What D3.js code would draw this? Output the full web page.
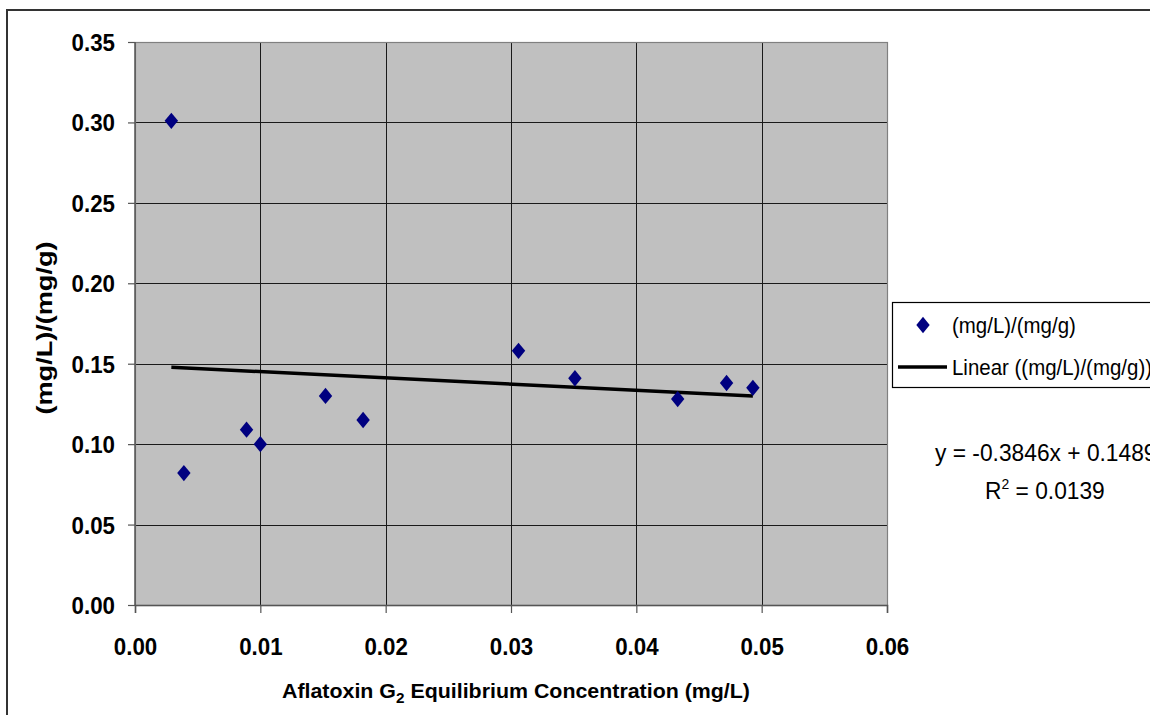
<!DOCTYPE html>
<html>
<head>
<meta charset="utf-8">
<script src="https://cdn.jsdelivr.net/npm/d3@7"></script>
<style>
  html, body { margin: 0; padding: 0; background: #fff; overflow: hidden; }
  svg { display: block; font-family: "Liberation Sans", Arial, sans-serif; }
</style>
</head>
<body>
<svg id="chart" width="1150" height="715"></svg>
<script>
// ---- data ----
const xValues = [0.0029, 0.0039, 0.0089, 0.0100, 0.0152, 0.0182, 0.0306, 0.0351, 0.0433, 0.0472, 0.0493];
const yValues = [0.301, 0.082, 0.109, 0.100, 0.130, 0.115, 0.158, 0.141, 0.128, 0.138, 0.135];
const xTicks = [0, 0.01, 0.02, 0.03, 0.04, 0.05, 0.06];
const yTicks = [0, 0.05, 0.10, 0.15, 0.20, 0.25, 0.30, 0.35];
const trendSlope = -0.3846;
const trendIntercept = 0.1489;
const seriesName = "(mg/L)/(mg/g)";
const trendName = "Linear ((mg/L)/(mg/g))";
const equationText = "y = -0.3846x + 0.1489";
const r2Value = "0.0139";
const xTitle = ["Aflatoxin G", "2", " Equilibrium Concentration (mg/L)"];
const yTitle = "(mg/L)/(mg/g)";

// ---- layout ----
const svg = d3.select("#chart");
const pL = 135, pR = 887, pT = 42, pB = 605;
const x = d3.scaleLinear().domain([0, 0.06]).range([pL, pR]);
const y = d3.scaleLinear().domain([0, 0.35]).range([pB, pT]);
const SX = 0.93; // horizontal text compression

// custom diamond symbol (slightly taller than wide)
const tallDiamond = {
  draw(ctx, size) {
    const w = Math.sqrt(size) / 2, h = w * 1.22;
    ctx.moveTo(0, -h); ctx.lineTo(w, 0); ctx.lineTo(0, h); ctx.lineTo(-w, 0); ctx.closePath();
  }
};
const diamond = d3.symbol().type(tallDiamond).size(180);

// outer chart border
svg.append("rect").attr("x", 7).attr("y", 10).attr("width", 1200).attr("height", 800)
  .attr("fill", "#fff").attr("stroke", "#333").attr("stroke-width", 2);

// plot background
svg.append("rect").attr("x", pL).attr("y", pT).attr("width", pR - pL).attr("height", pB - pT)
  .attr("fill", "#C0C0C0");

// gridlines
const grid = svg.append("g");
grid.selectAll("line.h").data(yTicks.slice(1)).join("line")
  .attr("x1", pL).attr("x2", pR).attr("y1", d => Math.round(y(d)) + 0.5).attr("y2", d => Math.round(y(d)) + 0.5)
  .attr("stroke", "#1a1a1a").attr("stroke-width", 1);
grid.selectAll("line.v").data(xTicks.slice(1, -1)).join("line")
  .attr("y1", pT).attr("y2", pB).attr("x1", d => Math.round(x(d)) + 0.5).attr("x2", d => Math.round(x(d)) + 0.5)
  .attr("stroke", "#1a1a1a").attr("stroke-width", 1);

// plot border
svg.append("rect").attr("x", pL + 0.5).attr("y", pT + 0.5).attr("width", pR - pL).attr("height", pB - pT)
  .attr("fill", "none").attr("stroke", "#808080").attr("stroke-width", 1.2);

// axes with d3 axis generators
const yAxis = d3.axisLeft(y).tickValues(yTicks).tickSize(7).tickFormat(d3.format(".2f"));
const xAxis = d3.axisBottom(x).tickValues(xTicks).tickSize(8).tickFormat(d3.format(".2f"));

const gy = svg.append("g").attr("transform", `translate(${pL},0)`).call(yAxis);
const gx = svg.append("g").attr("transform", `translate(0,${pB})`).call(xAxis);
[gy, gx].forEach(g => {
  g.select(".domain").attr("stroke", "#555").attr("stroke-width", 1.5);
  g.selectAll(".tick line").attr("stroke", "#555").attr("stroke-width", 1.2);
  g.selectAll(".tick text").attr("font-family", "Liberation Sans, Arial, sans-serif")
    .attr("font-size", 24).attr("font-weight", "bold").attr("fill", "#000");
});
gy.select(".domain").attr("d", `M0,${pT}V${pB}`);
gy.selectAll(".tick text").attr("x", null).attr("dy", null)
  .attr("transform", `translate(-20,8.5) scale(${SX},1)`).attr("text-anchor", "end");
gx.selectAll(".tick text").attr("y", null).attr("dy", null)
  .attr("transform", `translate(0,50) scale(${SX},1)`).attr("text-anchor", "middle");

// trendline
const xMin = d3.min(xValues), xMax = d3.max(xValues);
const trendPts = [xMin, xMax].map(v => [x(v), y(trendSlope * v + trendIntercept)]);
svg.append("path").attr("d", d3.line()(trendPts))
  .attr("stroke", "#000").attr("stroke-width", 3.5).attr("fill", "none");

// points (diamonds)
svg.append("g").selectAll("path").data(xValues.map((v, i) => [v, yValues[i]])).join("path")
  .attr("d", diamond)
  .attr("transform", d => `translate(${x(d[0])},${y(d[1])})`)
  .attr("fill", "#000080");

// axis titles
const xt = svg.append("text").attr("x", 282).attr("y", 698)
  .attr("font-size", 21).attr("font-weight", "bold").attr("fill", "#000")
  .attr("textLength", 468).attr("lengthAdjust", "spacingAndGlyphs");
xt.append("tspan").text(xTitle[0]);
xt.append("tspan").text(xTitle[1]).attr("font-size", 15).attr("dy", 5);
xt.append("tspan").text(xTitle[2]).attr("dy", -5);

svg.append("text").attr("transform", `translate(52,328) rotate(-90)`)
  .attr("text-anchor", "middle").attr("font-size", 22).attr("font-weight", "bold").attr("fill", "#000")
  .attr("textLength", 173).attr("lengthAdjust", "spacingAndGlyphs")
  .text(yTitle);

// legend
const lg = svg.append("g");
lg.append("rect").attr("x", 892.5).attr("y", 302.5).attr("width", 400).attr("height", 85)
  .attr("fill", "#fff").attr("stroke", "#000").attr("stroke-width", 1.2);
lg.append("path").attr("d", diamond).attr("transform", "translate(923,325)").attr("fill", "#000080");
lg.append("text").attr("transform", `translate(952,333) scale(${SX},1)`)
  .attr("font-size", 22).attr("fill", "#000").text(seriesName);
lg.append("line").attr("x1", 898).attr("x2", 947).attr("y1", 367).attr("y2", 367)
  .attr("stroke", "#000").attr("stroke-width", 3.5);
lg.append("text").attr("transform", `translate(952,375) scale(${SX},1)`)
  .attr("font-size", 22).attr("fill", "#000").text(trendName);

// equation + R2
svg.append("text").attr("transform", `translate(935,461) scale(${SX},1)`)
  .attr("font-size", 24.5).attr("fill", "#000").text(equationText);
const r2 = svg.append("text").attr("transform", `translate(985,499) scale(${SX},1)`)
  .attr("font-size", 24.5).attr("fill", "#000");
r2.append("tspan").text("R");
r2.append("tspan").text("2").attr("font-size", 15).attr("dy", -10);
r2.append("tspan").text(" = " + r2Value).attr("dy", 10);
</script>
</body>
</html>
